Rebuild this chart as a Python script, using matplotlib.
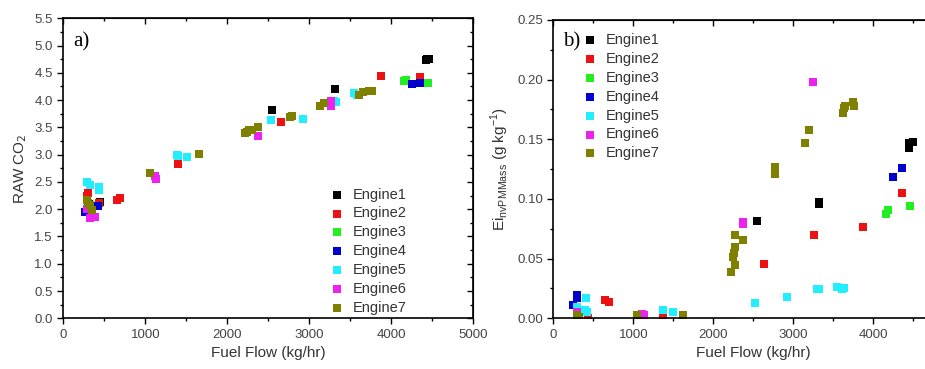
import matplotlib
matplotlib.use("Agg")
import matplotlib.pyplot as plt
from matplotlib.ticker import MultipleLocator, FuncFormatter

plt.rcParams["font.family"] = ["Liberation Sans", "DejaVu Sans"]

engine_names = ["Engine1", "Engine2", "Engine3", "Engine4", "Engine5", "Engine6", "Engine7"]
engine_colors = ["#000000", "#ee1111", "#22ee22", "#0000cc", "#22eeff", "#ee22ee", "#808000"]

# panel a) RAW CO2 vs fuel flow
co2_x = [
    [300, 310, 446, 2550, 3310, 4420, 4440, 4460],
    [290, 304, 440, 650, 690, 1400, 2650, 3870, 4350],
    [300, 4150, 4180, 4450],
    [264, 300, 426, 4250, 4350],
    [292, 325, 438, 430, 1390, 1400, 1510, 2530, 2920, 3300, 3320, 3550, 3580],
    [290, 325, 386, 1120, 1136, 2380, 3260, 3270],
    [285, 300, 325, 345, 1060, 1650, 2210, 2240, 2270, 2300, 2370, 2760, 2790,
     3130, 3180, 3610, 3650, 3730, 3770],
]
co2_y = [
    [2.05, 2.10, 2.14, 3.82, 4.20, 4.73, 4.75, 4.75],
    [2.25, 2.29, 2.12, 2.16, 2.20, 2.83, 3.60, 4.44, 4.42],
    [2.10, 4.35, 4.37, 4.32],
    [1.95, 2.05, 2.05, 4.30, 4.32],
    [2.50, 2.44, 2.41, 2.36, 3.00, 2.97, 2.95, 3.64, 3.65, 3.98, 3.97, 4.13, 4.10],
    [2.00, 1.83, 1.86, 2.60, 2.56, 3.35, 3.90, 3.98],
    [2.17, 2.12, 2.08, 1.99, 2.67, 3.01, 3.40, 3.42, 3.45, 3.45, 3.50, 3.69, 3.70,
     3.89, 3.95, 4.10, 4.14, 4.16, 4.17],
]

# panel b) EI nvPM mass vs fuel flow
ei_x = [
    [2550, 3320, 3320, 4440, 4440, 4500],
    [437, 650, 690, 1375, 2638, 3259, 3875, 4355],
    [4159, 4188, 4458],
    [250, 292, 292, 4250, 4355],
    [292, 396, 404, 420, 1375, 1500, 2521, 2917, 3300, 3320, 3542, 3604, 3630],
    [300, 1104, 1130, 2367, 2370, 3250],
    [292, 320, 1042, 1625, 2217, 2250, 2271, 2260, 2271, 2271, 2375, 2771, 2771,
     3146, 3200, 3625, 3634, 3646, 3750, 3758],
]
ei_y = [
    [0.0817, 0.0976, 0.0955, 0.147, 0.143, 0.148],
    [0.000, 0.015, 0.014, 0.001, 0.0453, 0.0696, 0.0766, 0.105],
    [0.087, 0.0906, 0.0942],
    [0.011, 0.0195, 0.0167, 0.1186, 0.126],
    [0.0095, 0.007, 0.0168, 0.005, 0.0073, 0.0053, 0.0128, 0.0179, 0.0246, 0.0246,
     0.0263, 0.0246, 0.025],
    [0.005, 0.004, 0.003, 0.0789, 0.081, 0.198],
    [0.0028, 0.0015, 0.0028, 0.003, 0.0389, 0.0514, 0.0445, 0.055, 0.0598, 0.0696,
     0.066, 0.127, 0.121, 0.1466, 0.158, 0.172, 0.176, 0.178, 0.181, 0.178],
]


def set_ticks(axis_obj, major, minor):
    axis_obj.set_major_locator(MultipleLocator(major))
    axis_obj.set_minor_locator(MultipleLocator(minor))


def style_axis(ax, ymajor, yminor, yfmt):
    for side in ["left", "right", "top", "bottom"]:
        ax.spines[side].set_linewidth(1.2)
    ax.tick_params(which="both", direction="out", labelsize=9.5,
                   labelcolor="#444444", width=1.0)
    ax.tick_params(which="major", length=4)
    ax.tick_params(which="minor", length=2.5)
    set_ticks(ax.xaxis, 1000, 500)
    set_ticks(ax.yaxis, ymajor, yminor)
    ax.yaxis.set_major_formatter(plt.FormatStrFormatter(yfmt))
    # mirrored ticks on top and right point inwards
    top = ax.secondary_xaxis("top")
    set_ticks(top.xaxis, 1000, 500)
    right = ax.secondary_yaxis("right")
    set_ticks(right.yaxis, ymajor, yminor)
    for sec in (top, right):
        sec.tick_params(which="both", direction="in", labeltop=False,
                        labelright=False, width=1.0)
        sec.tick_params(which="major", length=4)
        sec.tick_params(which="minor", length=2.5)


fig = plt.figure(figsize=(9.25, 3.69), dpi=100)

# ---- panel a
ax_a = fig.add_axes([63.3 / 925, 1 - 318.3 / 369, 410 / 925, 300 / 369])
for name, col, xs, ys in zip(engine_names, engine_colors, co2_x, co2_y):
    ax_a.scatter(xs, ys, marker="s", s=40, color=col, label=name, linewidths=0)
ax_a.set_xlim(0, 5000)
ax_a.set_ylim(0, 5.5)
style_axis(ax_a, 0.5, 0.25, "%.1f")
ax_a.set_xlabel("Fuel Flow (kg/hr)", fontsize=11, color="#333333", labelpad=4)
ax_a.set_ylabel("RAW CO$_2$", fontsize=11, color="#333333", labelpad=4)
ax_a.text(0.025, 0.955, "a)", transform=ax_a.transAxes, fontsize=15,
          family="Liberation Serif", va="top", ha="left")
ax_a.legend(loc="upper left", bbox_to_anchor=(0.635, 0.455), frameon=False,
            fontsize=10.5, handletextpad=0.6, labelspacing=0.33,
            handlelength=1.0, borderaxespad=0, markerscale=0.8,
            labelcolor="#333333")

# ---- panel b (its right part runs past the figure edge)
ax_b = fig.add_axes([553.3 / 925, 1 - 318.3 / 369, 400 / 925, 298.3 / 369])
for name, col, xs, ys in zip(engine_names, engine_colors, ei_x, ei_y):
    ax_b.scatter(xs, ys, marker="s", s=40, color=col, label=name, linewidths=0)
ax_b.set_xlim(0, 5000)
ax_b.set_ylim(0, 0.25)
style_axis(ax_b, 0.05, 0.025, "%.2f")
ax_b.xaxis.set_major_formatter(FuncFormatter(lambda v, p: "" if v > 4500 else f"{v:.0f}"))
ax_b.set_xlabel("Fuel Flow (kg/hr)", fontsize=11, color="#333333", labelpad=4)
ax_b.set_ylabel("Ei$_{\\mathregular{nvPMMass}}$ (g kg$^{\\mathregular{-1}}$)",
                fontsize=11, color="#333333", labelpad=4)
ax_b.text(0.025, 0.96, "b)", transform=ax_b.transAxes, fontsize=15,
          family="Liberation Serif", va="top", ha="left")
ax_b.legend(loc="upper left", bbox_to_anchor=(0.058, 0.975), frameon=False,
            fontsize=10.5, handletextpad=0.6, labelspacing=0.33,
            handlelength=1.0, borderaxespad=0, markerscale=0.8,
            labelcolor="#333333")

fig.savefig("out.png", dpi=100)
